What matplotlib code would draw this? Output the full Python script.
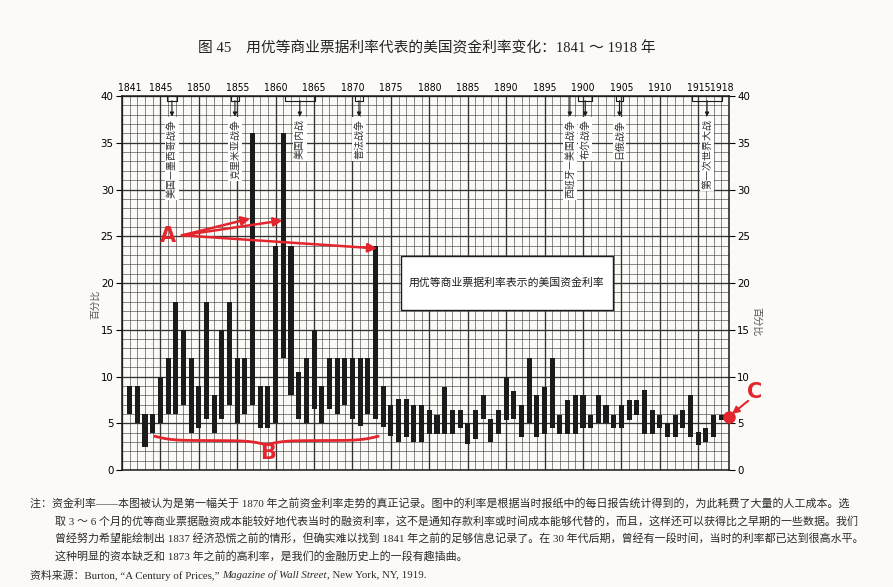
import matplotlib
matplotlib.use("Agg")
import matplotlib.pyplot as plt
import matplotlib.patches as patches
import numpy as np

plt.rcParams['font.family'] = ['Noto Sans CJK SC', 'DejaVu Sans']

# yearly range of prime commercial paper rates (percent)
years = list(range(1841, 1919))
low = [6, 5, 2.5, 4, 5, 6, 6, 7, 4, 4.5,
       5.5, 4, 5.5, 7, 5, 6, 7, 4.5, 4.5, 5,
       12, 8, 5.5, 5, 6.5, 5, 6.5, 6, 7, 5.5,
       4.7, 6, 5.5, 4.6, 3.6, 3, 3.5, 3, 3, 3.9,
       3.9, 3.9, 3.9, 4.5, 2.8, 3.3, 5.5, 3, 3.9, 5.4,
       5.5, 3.5, 5, 3.5, 3.9, 4.5, 3.9, 3.9, 3.9, 4.5,
       4.5, 5, 5, 4.5, 4.5, 5.4, 5.9, 3.9, 3.9, 4.5,
       3.5, 3.5, 4.5, 3.5, 2.7, 3, 3.5, 5.4]
high = [9, 9, 6, 6, 10, 12, 18, 15, 12, 9,
        18, 8, 15, 18, 12, 12, 36, 9, 9, 24,
        36, 24, 10.5, 12, 15, 9, 12, 12, 12, 12,
        12, 12, 24, 9, 7, 7.6, 7.6, 7, 7, 6.4,
        5.9, 8.9, 6.4, 6.4, 5, 6.4, 8, 5.5, 6.4, 10,
        8.5, 7, 12, 8, 8.9, 12, 5.9, 7.5, 8, 8,
        5.9, 8, 7, 5.9, 7, 7.5, 7.5, 8.6, 6.4, 5.9,
        5, 5.9, 6.4, 8, 4.1, 4.5, 5.9, 5.9]

top_ticks = [1841, 1845, 1850, 1855, 1860, 1865, 1870, 1875, 1880, 1885,
             1890, 1895, 1900, 1905, 1910, 1915, 1918]
y_ticks = [0, 5, 10, 15, 20, 25, 30, 35, 40]

war_names = ["美国—墨西哥战争", "克里米亚战争", "美国内战", "普法战争",
             "西班牙—美国战争", "布尔战争", "日俄战争", "第一次世界大战"]
war_start = [1845.8, 1854.2, 1861.2, 1870.3, 1898.3, 1899.4, 1904.3, 1914.2]
war_end = [1847.2, 1855.2, 1865.1, 1871.4, 1898.3, 1901.2, 1905.2, 1918.1]

legend_label = "用优等商业票据利率表示的美国资金利率"
title = "图 45　用优等商业票据利率代表的美国资金利率变化：1841 ～ 1918 年"
notes = [
    "注：资金利率——本图被认为是第一幅关于 1870 年之前资金利率走势的真正记录。图中的利率是根据当时报纸中的每日报告统计得到的，为此耗费了大量的人工成本。选",
    "取 3 ～ 6 个月的优等商业票据融资成本能较好地代表当时的融资利率，这不是通知存款利率或时间成本能够代替的，而且，这样还可以获得比之早期的一些数据。我们",
    "曾经努力希望能绘制出 1837 经济恐慌之前的情形，但确实难以找到 1841 年之前的足够信息记录了。在 30 年代后期，曾经有一段时间，当时的利率都已达到很高水平。",
    "这种明显的资本缺乏和 1873 年之前的高利率，是我们的金融历史上的一段有趣插曲。",
]

red = '#e3262d'
ink = '#1b1b1b'
serif_cjk = ['Liberation Serif', 'Noto Sans CJK SC']

fig = plt.figure(figsize=(8.93, 5.87), dpi=100, facecolor='#fbfaf7')
ax = fig.add_axes([0.1366, 0.1993, 0.6797, 0.6371], facecolor='#fbfaf7')
ax.set_xlim(1840, 1919)
ax.set_ylim(0, 40)

# graph paper grid
for yr in range(1840, 1920):
    ax.axvline(yr, color='#333333', lw=0.95 if yr % 5 == 0 else 0.4, zorder=0)
for v in range(0, 41):
    ax.axhline(v, color='#333333', lw=0.95 if v % 5 == 0 else 0.4, zorder=0)

# floating bars: low to high each year
heights = [h - l for h, l in zip(high, low)]
ax.bar(years, heights, bottom=low, width=0.66, color=ink, zorder=2)

# axes, ticks
ax.xaxis.tick_top()
ax.set_xticks(top_ticks)
ax.set_xticklabels([str(t) for t in top_ticks], family='DejaVu Sans',
                   fontstretch='condensed', fontsize=7.4)
ax.tick_params(axis='x', length=0, pad=2)
ax.set_yticks(y_ticks)
ax.set_yticklabels([str(t) for t in y_ticks], family='DejaVu Sans',
                   fontstretch='condensed', fontsize=8.2)
ax.tick_params(axis='y', length=4, direction='out', left=True, right=True,
               labelleft=True, labelright=True, pad=2)
for s in ax.spines.values():
    s.set_color(ink)
    s.set_linewidth(1.1)

# wars along the top
for name, x0, x1 in zip(war_names, war_start, war_end):
    xm = (x0 + x1) / 2
    if x1 > x0:
        ax.plot([x0, x0, x1, x1], [40, 39.5, 39.5, 40], color=ink, lw=0.8,
                zorder=5, solid_capstyle='round')
        y_from = 39.5
    else:
        y_from = 40
    ax.annotate('', xy=(xm, 37.8), xytext=(xm, y_from),
                arrowprops=dict(arrowstyle='-|>', color=ink, lw=0.8,
                                mutation_scale=6, shrinkA=0, shrinkB=0),
                zorder=5)
    ax.text(xm, 37.55, name, rotation=90, ha='center', va='top', fontsize=7.2,
            color='#333333', zorder=4,
            bbox=dict(fc='white', ec='none', pad=1.4))

# legend box
ax.add_patch(patches.Rectangle((1876.3, 17.1), 27.6, 5.8, fc='white',
                               ec=ink, lw=1.0, zorder=4))
ax.text(1890.1, 20.0, legend_label, ha='center', va='center', fontsize=7.8,
        color=ink, zorder=5)

# red markings: A arrows
ax.text(1846.0, 25.0, 'A', color=red, fontsize=15, fontweight='bold',
        family='DejaVu Sans', ha='center', va='center', zorder=6)
for tip in [(1856.7, 26.9), (1860.9, 26.7), (1873.2, 23.7)]:
    ax.annotate('', xy=tip, xytext=(1847.8, 25.1),
                arrowprops=dict(arrowstyle='-|>', color=red, lw=1.8,
                                mutation_scale=13, shrinkA=0, shrinkB=0),
                zorder=6)

# B brace
bx0, bx1, by, bh = 1844.3, 1873.3, 3.6, 0.9
xs = np.linspace(bx0, bx1, 401)
xh = xs[:201]
beta = 0.9
shape = (1 / (1 + np.exp(-beta * (xh - xh[0]))) +
         1 / (1 + np.exp(-beta * (xh - xh[-1])))) - 0.5
shape = np.concatenate((shape, shape[-2::-1]))
ax.plot(xs, by - bh * shape, color=red, lw=2.0, zorder=6)
ax.text(1859.0, 1.8, 'B', color=red, fontsize=15, fontweight='bold',
        family='DejaVu Sans', ha='center', va='center', zorder=6)

# C dot at the last value
ax.plot([1919], [5.7], 'o', color=red, ms=8, zorder=7, clip_on=False)
ax.text(1922.4, 8.3, 'C', color=red, fontsize=15, fontweight='bold',
        family='DejaVu Sans', ha='center', va='center', zorder=7,
        clip_on=False)
ax.annotate('', xy=(1919.4, 6.0), xytext=(1921.5, 7.4),
            arrowprops=dict(arrowstyle='-|>', color=red, lw=1.5,
                            mutation_scale=10, shrinkA=0, shrinkB=0),
            zorder=7, annotation_clip=False)

# side labels
fig.text(95 / 893, 1 - 304 / 587, '百分比', rotation=90, fontsize=7,
         color='#555555', ha='center', va='center')
fig.text(757 / 893, 1 - 322 / 587, '百分比', rotation=-90, fontsize=7,
         color='#555555', ha='center', va='center')

# title
fig.text(0.478, 1 - 48 / 587, title, ha='center', va='center',
         fontsize=10.6, family=serif_cjk, color='#222222')

# notes
note_y = [503, 521, 539, 556]
for i, (line, yy) in enumerate(zip(notes, note_y)):
    xx = 30 if i == 0 else 55
    fig.text(xx / 893, 1 - yy / 587, line, ha='left', va='center',
             fontsize=7.9, family=serif_cjk, color='#2a2a2a')

# source line with italic magazine name
fig.canvas.draw()
renderer = fig.canvas.get_renderer()
src_parts = [("资料来源：Burton, “A Century of Prices,” ", 'normal'),
             ("Magazine of Wall Street", 'italic'),
             (", New York, NY, 1919.", 'normal')]
x_px = 30
for txt, style in src_parts:
    t = fig.text(x_px / 893, 1 - 575 / 587, txt, ha='left', va='center',
                 fontsize=7.8, family=serif_cjk, style=style, color='#2a2a2a')
    x_px += t.get_window_extent(renderer).width

fig.savefig('out.png', dpi=100, facecolor=fig.get_facecolor())
